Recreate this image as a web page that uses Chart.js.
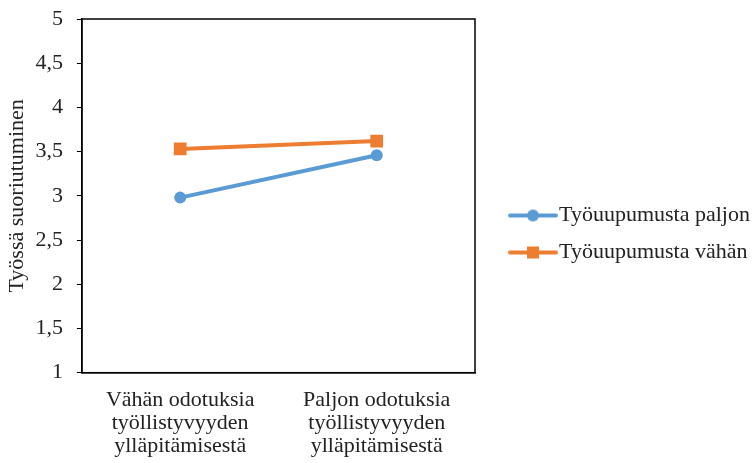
<!DOCTYPE html>
<html>
<head>
<meta charset="utf-8">
<script src="https://cdn.jsdelivr.net/npm/chart.js@4"></script>
<style>
  html, body { margin: 0; padding: 0; background: #ffffff; }
</style>
</head>
<body>
<canvas id="myChart" width="756" height="463"></canvas>
<script>
const categories = [
    ['Vähän odotuksia', 'työllistyvyyden', 'ylläpitämisestä'],
    ['Paljon odotuksia', 'työllistyvyyden', 'ylläpitämisestä']
];
const seriesNames = ['Työuupumusta paljon', 'Työuupumusta vähän'];
const paljonValues = [2.98, 3.46];
const vahanValues = [3.53, 3.62];
const yTicks = [1, 1.5, 2, 2.5, 3, 3.5, 4, 4.5, 5];

const blue = '#5B9BD5';
const orange = '#ED7D31';
const fontFamily = '"Liberation Serif", "Times New Roman", serif';

// legend icon: line with marker, drawn in the right part of a wider canvas
function legendIcon(color, shape){
    const c = document.createElement('canvas');
    c.width = 78;
    c.height = 14;
    const g = c.getContext('2d');
    g.strokeStyle = color;
    g.lineWidth = 4;
    g.lineCap = 'round';
    g.beginPath();
    g.moveTo(30, 7);
    g.lineTo(76, 7);
    g.stroke();
    g.fillStyle = color;
    if (shape === 'circle') {
        g.beginPath();
        g.arc(53, 7, 6, 0, Math.PI * 2);
        g.fill();
    } else {
        g.fillRect(47, 1, 12, 12);
    }
    return c;
}

// box round the plot area
const frame = {
    id: 'frame',
    afterDraw(chart){
        const a = chart.chartArea;
        const ctx = chart.ctx;
        ctx.save();
        ctx.strokeStyle = '#000000';
        ctx.lineWidth = 1.5;
        ctx.strokeRect(a.left, a.top, a.right - a.left, a.bottom - a.top);
        ctx.restore();
    }
};

const ctx = document.getElementById('myChart');

const chart = new Chart(ctx, {
    type: 'line',
    data: {
        labels: categories,
        datasets: [{
            label: seriesNames[0],
            data: paljonValues,
            borderColor: blue,
            backgroundColor: blue,
            borderWidth: 4,
            pointStyle: 'circle',
            pointRadius: 6,
            pointBorderWidth: 0,
            pointBackgroundColor: blue
        }, {
            label: seriesNames[1],
            data: vahanValues,
            borderColor: orange,
            backgroundColor: orange,
            borderWidth: 4,
            pointStyle: 'rect',
            pointRadius: 9,
            pointBorderWidth: 0,
            pointBackgroundColor: orange
        }]
    },
    options: {
        responsive: false,
        animation: false,
        layout: {
            padding: { top: -6, right: 0, bottom: -11, left: 4 }
        },
        scales: {
            x: {
                offset: true,
                grid: { display: false, drawTicks: false },
                border: { display: true, color: '#000000', width: 1.5 },
                ticks: {
                    color: '#222222',
                    maxRotation: 0,
                    padding: 16,
                    font: { family: fontFamily, size: 22, lineHeight: 1.05 }
                }
            },
            y: {
                min: 1,
                max: 5,
                afterBuildTicks(axis){
                    axis.ticks = yTicks.map(v => ({ value: v }));
                },
                afterFit(axis){
                    // top of the plot sits at y = 19
                    axis.paddingTop = 19;
                },
                grid: {
                    drawOnChartArea: false,
                    drawTicks: true,
                    tickLength: 5,
                    color: '#000000',
                    lineWidth: 1
                },
                border: { display: true, color: '#000000', width: 1.5 },
                ticks: {
                    color: '#222222',
                    padding: 14,
                    font: { family: fontFamily, size: 22 },
                    callback: v => String(v).replace('.', ',')
                },
                title: {
                    display: true,
                    text: 'Työssä suoriutuminen',
                    color: '#222222',
                    padding: { top: 0, bottom: -9 },
                    font: { family: fontFamily, size: 22 }
                }
            }
        },
        plugins: {
            legend: {
                position: 'right',
                maxWidth: 281,
                labels: {
                    color: '#222222',
                    usePointStyle: true,
                    pointStyleWidth: 58,
                    boxHeight: 14,
                    padding: 15,
                    font: { family: fontFamily, size: 22 },
                    generateLabels(chart){
                        const items = Chart.defaults.plugins.legend.labels.generateLabels(chart);
                        items[0].pointStyle = legendIcon(blue, 'circle');
                        items[1].pointStyle = legendIcon(orange, 'rect');
                        return items;
                    }
                }
            },
            tooltip: { enabled: false }
        }
    },
    plugins: [frame]
});
</script>
</body>
</html>
